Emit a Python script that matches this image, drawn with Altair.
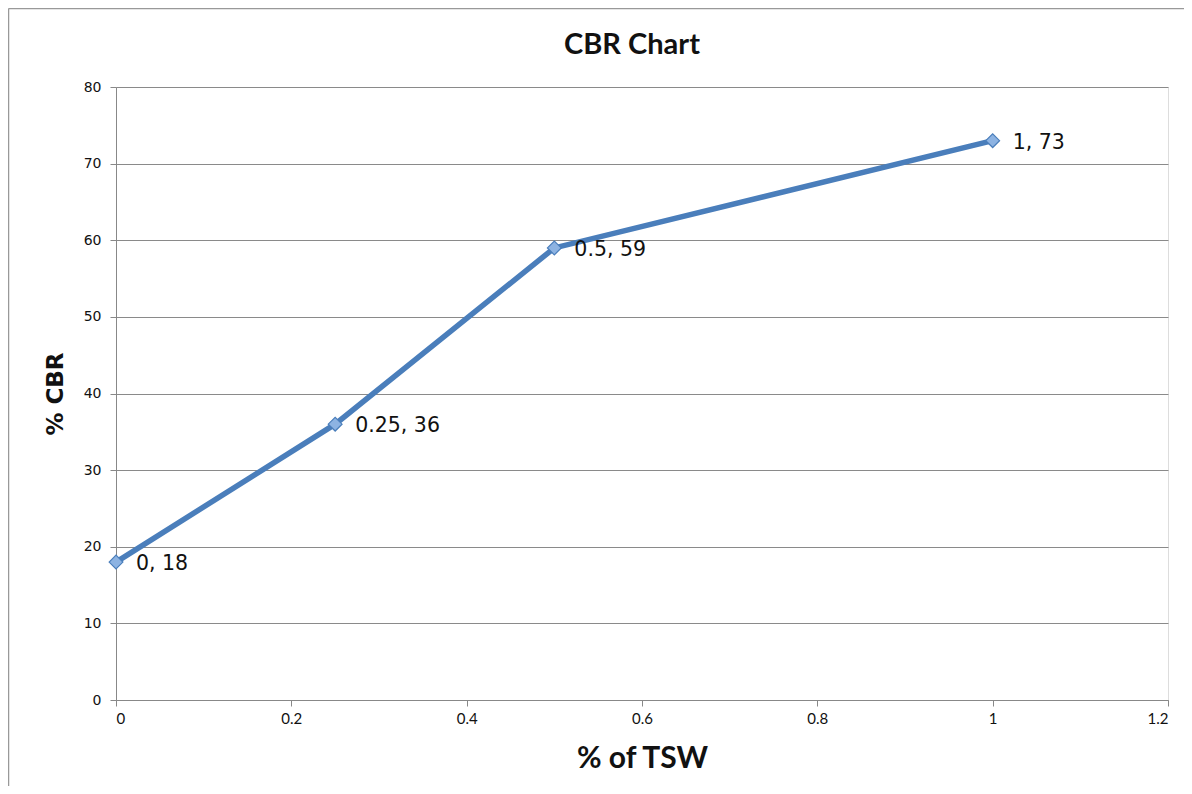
import altair as alt
import pandas as pd

tsw = [0, 0.25, 0.5, 1]
cbr = [18, 36, 59, 73]
point_labels = ["0, 18", "0.25, 36", "0.5, 59", "1, 73"]
x_ticks = [0, 0.2, 0.4, 0.6, 0.8, 1.0, 1.2]
y_ticks = [0, 10, 20, 30, 40, 50, 60, 70, 80]

df = pd.DataFrame({"tsw": tsw, "cbr": cbr, "label": point_labels})

x_enc = alt.X(
    "tsw:Q",
    scale=alt.Scale(domain=[0, 1.2], nice=False, zero=False),
    axis=alt.Axis(
        values=x_ticks, title="% of TSW", grid=False,
        labelExpr="format(datum.value, '~g')",
        labelFont="Lato", labelFontSize=15, labelColor="#111",
        labelPadding=5, tickSize=6, tickColor="#888", domainColor="#888",
        titleFont="Lato", titleFontSize=30, titleFontWeight="bold",
        titleColor="#111", titleBaseline="top", titleY=43,
    ),
)
y_enc = alt.Y(
    "cbr:Q",
    scale=alt.Scale(domain=[0, 80], nice=False),
    axis=alt.Axis(
        values=y_ticks, title="% CBR", grid=True, gridColor="#8a8a8a",
        gridWidth=1, gridOpacity=1,
        labelFont="DejaVu Sans", labelFontSize=14, labelColor="#111",
        labelPadding=9, tickSize=6, tickColor="#888", domainColor="#888",
        titleFont="DejaVu Sans", titleFontSize=23, titleFontWeight="bold",
        titleColor="#111", titleX=-61, titleBaseline="middle",
    ),
)

base = alt.Chart(df)
line = base.mark_line(color="#4a7ebb", strokeWidth=5.5).encode(x=x_enc, y=y_enc)
pts = base.mark_point(shape="diamond", filled=True, fill="#8db3e2", stroke="#4a7ebb",
                      strokeWidth=1.2, size=190, opacity=1).encode(x="tsw:Q", y="cbr:Q")
txt = base.mark_text(align="left", baseline="middle", dx=20, dy=2, font="DejaVu Sans",
                     fontSize=20.5, color="#111").encode(x="tsw:Q", y="cbr:Q", text="label:N")

frame_df = pd.DataFrame({"a": [0]})
left_border = alt.Chart(frame_df).mark_rule(color="#999", strokeWidth=1.5).encode(
    x=alt.value(-107.5), y=alt.value(-78.5), y2=alt.value(720))
top_border = alt.Chart(frame_df).mark_rule(color="#999", strokeWidth=1.5).encode(
    x=alt.value(-107.5), x2=alt.value(1080), y=alt.value(-78.5))

chart = alt.layer(left_border, top_border, line, pts, txt).properties(
    width=1052, height=613,
    title=alt.TitleParams("CBR Chart", font="Lato", fontSize=29, fontWeight="bold",
                          color="#111", anchor="middle", baseline="bottom", offset=-81,
                          dx=-10, frame="group"),
    autosize=alt.AutoSizeParams(type="none"),
    padding={"left": 108, "top": 79, "right": 16, "bottom": 86},
).configure_view(stroke=None).configure(background="white")

chart.save("out.html", embed_options={"renderer": "svg", "actions": False})
